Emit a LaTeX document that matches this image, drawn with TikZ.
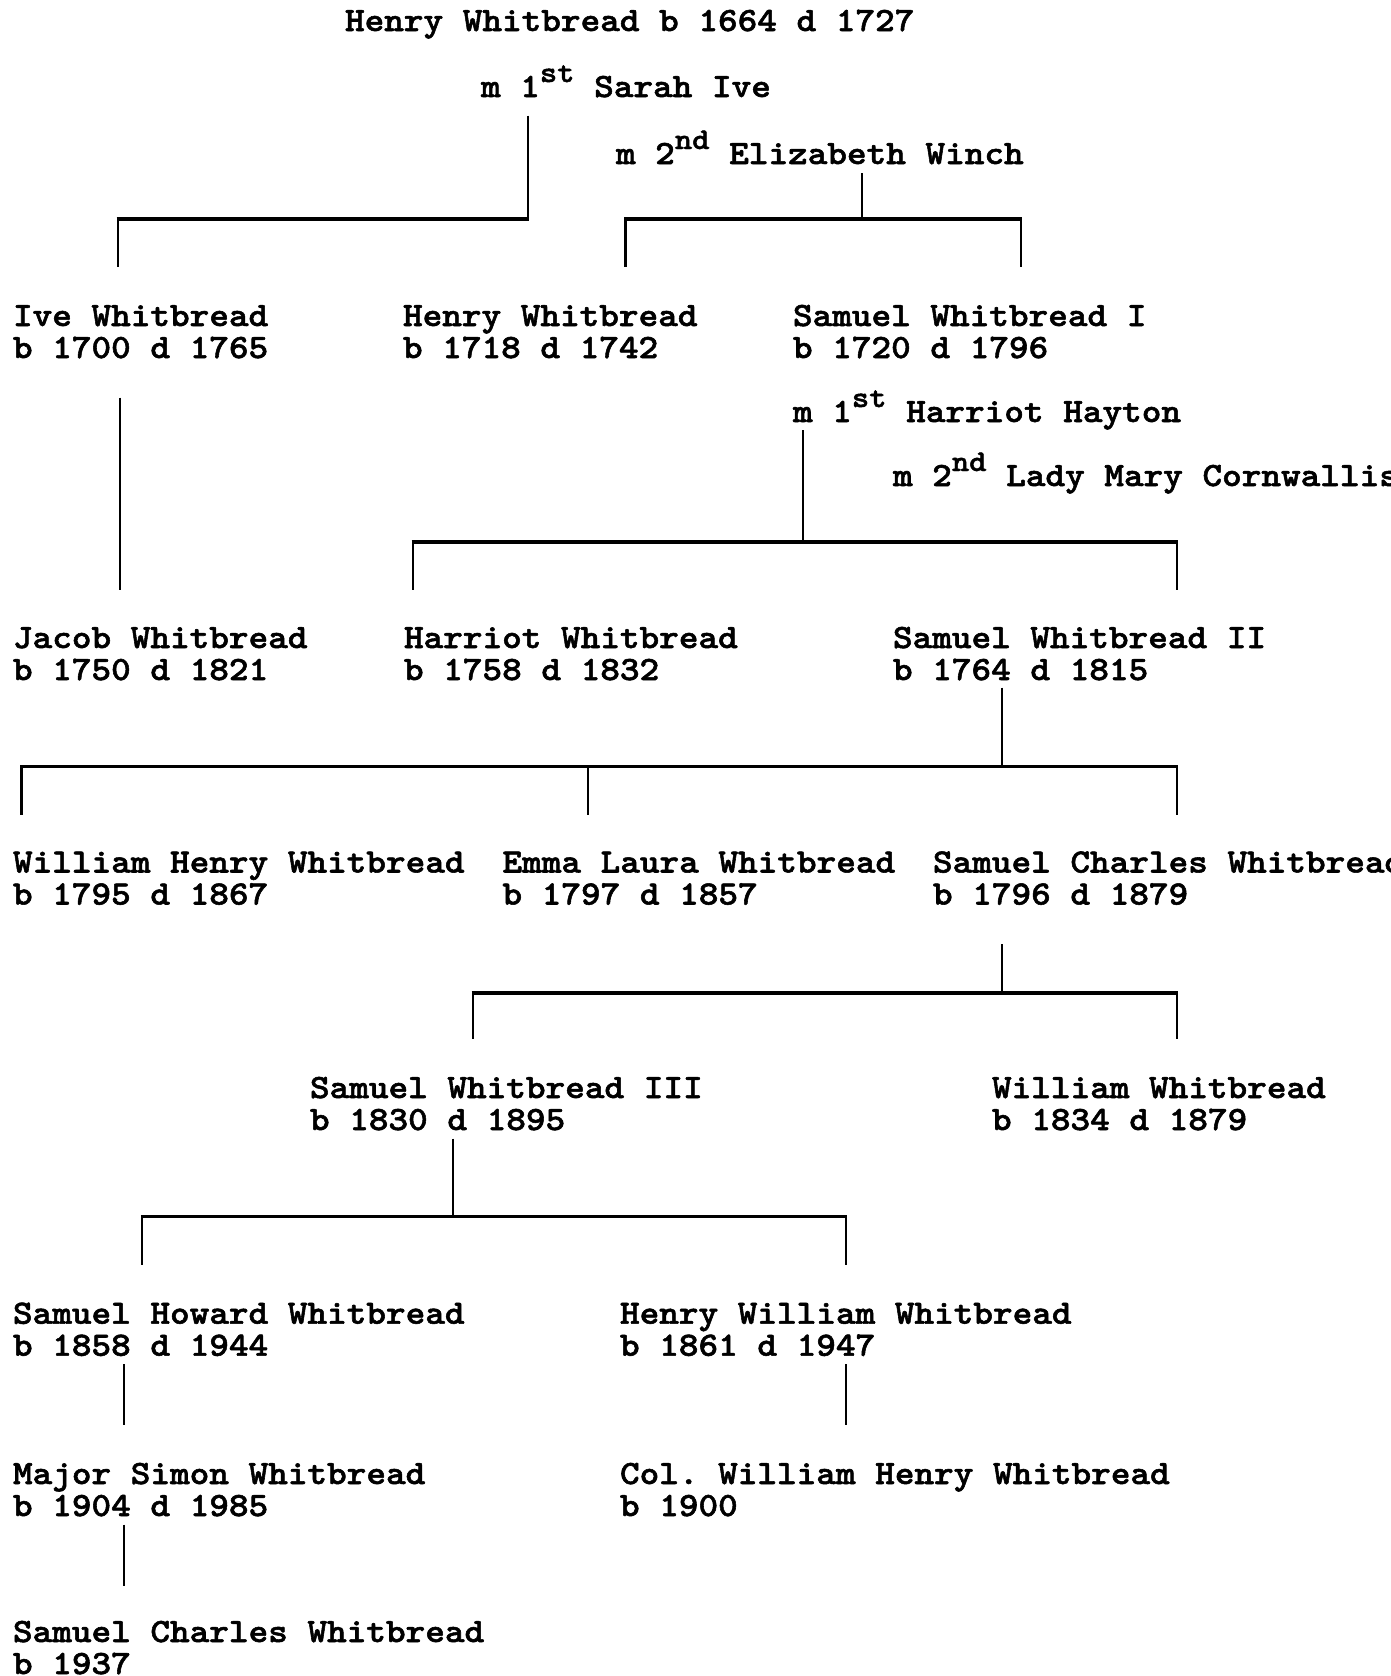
\documentclass[tikz,border=0pt]{standalone}
\usepackage{fontspec}
\newfontfamily\reffont{lmmonolt10-bold}[Extension=.otf,FakeStretch=1.1,FakeBold=1.6]
\frenchspacing
\newcommand\ordsup[1]{\raisebox{7.5pt}{\fontsize{15pt}{15pt}\selectfont #1}}
\newcommand\twoline[2]{\begin{tabular}[t]{@{}l@{}}#1\\#2\end{tabular}}
\begin{document}
\begin{tikzpicture}[x=0.5pt,y=-0.5pt,
  txt/.style={anchor=base west,inner sep=0pt,outer sep=0pt,font=\reffont\fontsize{17pt}{16pt}\selectfont},
  vbar/.style={line width=1.1pt},
  hbar/.style={line width=1.7pt,shorten <=-0.55pt,shorten >=-0.55pt}]
\useasboundingbox (0,0) rectangle (1391,1676);
% texts
\node[txt] (root) at (345,31) {Henry Whitbread b 1664 d 1727};
\node[txt] (m1) at (481,97) {m 1\ordsup{st} Sarah Ive};
\node[txt] (m2) at (616,164) {m 2\ordsup{nd} Elizabeth Winch};
\node[txt] (ive) at (13,326) {\twoline{Ive Whitbread}{b 1700 d 1765}};
\node[txt] (henry) at (403,326) {\twoline{Henry Whitbread}{b 1718 d 1742}};
\node[txt] (sam1) at (793,326) {\twoline{Samuel Whitbread I}{b 1720 d 1796}};
\node[txt] (m3) at (793,422) {m 1\ordsup{st} Harriot Hayton};
\node[txt] (m4) at (893,486) {m 2\ordsup{nd} Lady Mary Cornwallis};
\node[txt] (jacob) at (13,648) {\twoline{Jacob Whitbread}{b 1750 d 1821}};
\node[txt] (harriot) at (404,648) {\twoline{Harriot Whitbread}{b 1758 d 1832}};
\node[txt] (sam2) at (893,648) {\twoline{Samuel Whitbread II}{b 1764 d 1815}};
\node[txt] (wh) at (13,872.5) {\twoline{William Henry Whitbread}{b 1795 d 1867}};
\node[txt] (emma) at (502.5,872.5) {\twoline{Emma Laura Whitbread}{b 1797 d 1857}};
\node[txt] (sc) at (933,872.5) {\twoline{Samuel Charles Whitbread}{b 1796 d 1879}};
\node[txt] (sam3) at (310,1098) {\twoline{Samuel Whitbread III}{b 1830 d 1895}};
\node[txt] (will) at (992,1098) {\twoline{William Whitbread}{b 1834 d 1879}};
\node[txt] (sh) at (13,1323.7) {\twoline{Samuel Howard Whitbread}{b 1858 d 1944}};
\node[txt] (hw) at (620,1323.7) {\twoline{Henry William Whitbread}{b 1861 d 1947}};
\node[txt] (ms) at (13,1484) {\twoline{Major Simon Whitbread}{b 1904 d 1985}};
\node[txt] (col) at (620,1484) {\twoline{Col. William Henry Whitbread}{b 1900}};
\node[txt] (sc2) at (13,1642) {\twoline{Samuel Charles Whitbread}{b 1937}};
% connector points
\coordinate (s1) at (528,115.5); \coordinate (b1) at (528,219); \coordinate (l1) at (117.6,267);
\coordinate (s2) at (862,173); \coordinate (b2) at (862,219); \coordinate (l2) at (625.5,267); \coordinate (r2) at (1021,267);
\coordinate (t3) at (119.7,397.7); \coordinate (e3) at (119.7,590);
\coordinate (s3) at (803,430); \coordinate (b3) at (803,542); \coordinate (l3) at (412.7,590); \coordinate (r3) at (1177,590);
\coordinate (s4) at (1002,687.5); \coordinate (b4) at (1002,766.6); \coordinate (l4) at (21.4,814.7); \coordinate (c4) at (588,814.7); \coordinate (r4) at (1177,814.7);
\coordinate (s5) at (1002,944); \coordinate (b5) at (1002,993); \coordinate (l5) at (472.6,1039); \coordinate (r5) at (1177,1039);
\coordinate (s6) at (453,1138.7); \coordinate (b6) at (453,1216.7); \coordinate (l6) at (142,1265); \coordinate (r6) at (845.7,1265);
\coordinate (t8) at (124,1364); \coordinate (e8) at (124,1425);
\coordinate (t9) at (845.7,1364); \coordinate (e9) at (845.7,1425);
\coordinate (t10) at (124,1524.7); \coordinate (e10) at (124,1585.6);
% connectors
\draw[vbar] (s1) -- (b1);
\draw[hbar] (l1|-b1) -- (b1);
\draw[vbar] (l1|-b1) -- (l1);
\draw[vbar] (s2) -- (b2);
\draw[hbar] (l2|-b2) -- (r2|-b2);
\draw[vbar] (l2|-b2) -- (l2);
\draw[vbar] (r2|-b2) -- (r2);
\draw[vbar] (t3) -- (e3);
\draw[vbar] (s3) -- (b3);
\draw[hbar] (l3|-b3) -- (r3|-b3);
\draw[vbar] (l3|-b3) -- (l3);
\draw[vbar] (r3|-b3) -- (r3);
\draw[vbar] (s4) -- (b4);
\draw[hbar] (l4|-b4) -- (r4|-b4);
\draw[vbar] (l4|-b4) -- (l4);
\draw[vbar] (c4|-b4) -- (c4);
\draw[vbar] (r4|-b4) -- (r4);
\draw[vbar] (s5) -- (b5);
\draw[hbar] (l5|-b5) -- (r5|-b5);
\draw[vbar] (l5|-b5) -- (l5);
\draw[vbar] (r5|-b5) -- (r5);
\draw[vbar] (s6) -- (b6);
\draw[hbar] (l6|-b6) -- (r6|-b6);
\draw[vbar] (l6|-b6) -- (l6);
\draw[vbar] (r6|-b6) -- (r6);
\draw[vbar] (t8) -- (e8);
\draw[vbar] (t9) -- (e9);
\draw[vbar] (t10) -- (e10);
\end{tikzpicture}
\end{document}
